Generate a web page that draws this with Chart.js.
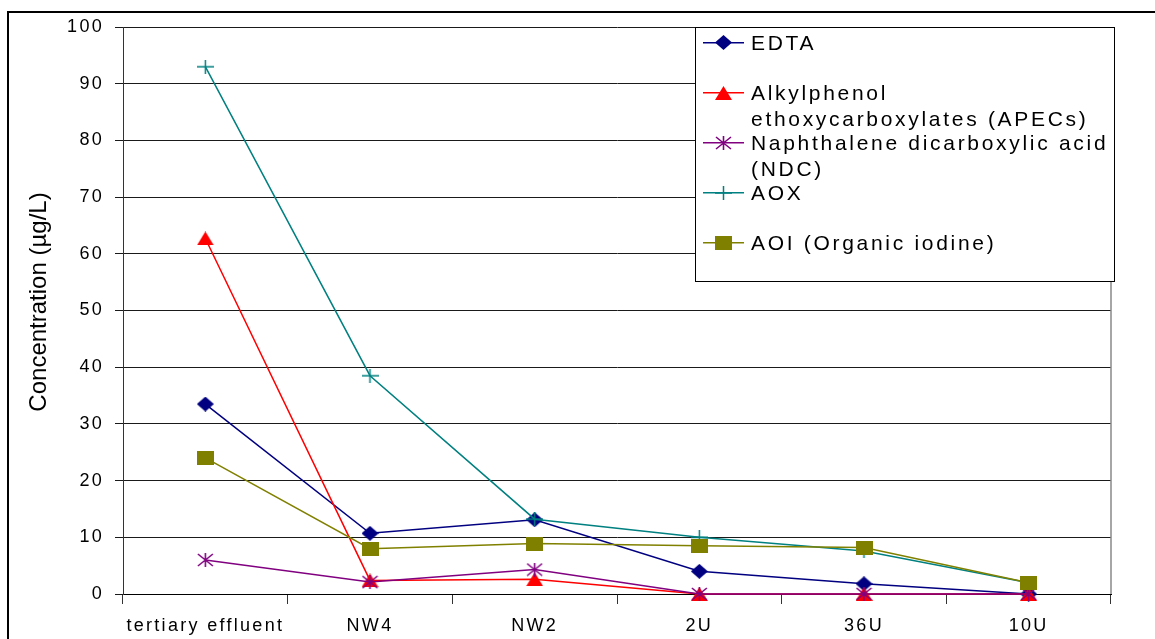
<!DOCTYPE html>
<html>
<head>
<meta charset="utf-8">
<script src="https://cdn.jsdelivr.net/npm/chart.js@4.4.0/dist/chart.umd.min.js"></script>
<style>
html,body{margin:0;padding:0;background:#fff;overflow:hidden}
canvas{display:block}
</style>
</head>
<body>
<canvas id="c" width="1155" height="639" style="width:1155px;height:639px"></canvas>
<script>
// ---- data ----
const categories = ['tertiary effluent', 'NW4', 'NW2', '2U', '36U', '10U'];
const edta = [33.5, 10.7, 13.1, 4.0, 1.8, 0];
const apecs = [62.7, 2.4, 2.6, 0, 0, 0];
const ndc = [6.0, 2.1, 4.3, 0, 0, 0];
const aox = [93.0, 38.5, 13.2, 10.0, 7.6, 2.0];
const aoi = [24.0, 8.0, 8.9, 8.5, 8.2, 2.0];
const seriesNames = [
  ['EDTA'],
  ['Alkylphenol', 'ethoxycarboxylates (APECs)'],
  ['Naphthalene dicarboxylic acid', '(NDC)'],
  ['AOX'],
  ['AOI (Organic iodine)']
];
const yTicks = [0, 10, 20, 30, 40, 50, 60, 70, 80, 90, 100];
const yTitle = 'Concentration (\u00b5g/L)';

const FONT = "'Liberation Sans', Arial, sans-serif";
Chart.defaults.font.family = FONT;

// ---- marker images ----
function mk(w, h, draw) {
  const c = document.createElement('canvas');
  c.width = w; c.height = h;
  draw(c.getContext('2d'), w, h);
  return c;
}
const mDiamond = mk(17, 15, (g, w, h) => {
  g.fillStyle = '#000080';
  g.beginPath(); g.moveTo(w / 2, 0); g.lineTo(w, h / 2); g.lineTo(w / 2, h); g.lineTo(0, h / 2); g.closePath(); g.fill();
});
const mTriangle = mk(17, 14, (g, w, h) => {
  g.fillStyle = '#ff0000';
  g.beginPath(); g.moveTo(w / 2, 0); g.lineTo(w, h); g.lineTo(0, h); g.closePath(); g.fill();
});
const mStar = mk(17, 14, (g, w, h) => {
  g.strokeStyle = '#800080'; g.lineWidth = 1.6;
  g.beginPath();
  g.moveTo(1, 1); g.lineTo(w - 1, h - 1);
  g.moveTo(w - 1, 1); g.lineTo(1, h - 1);
  g.moveTo(w / 2, 0); g.lineTo(w / 2, h);
  g.stroke();
});
const mCross = mk(17, 14, (g, w, h) => {
  g.strokeStyle = '#008080'; g.lineWidth = 1.5;
  g.beginPath();
  g.moveTo(0, h / 2); g.lineTo(w, h / 2);
  g.moveTo(w / 2, 0); g.lineTo(w / 2, h);
  g.stroke();
});
const mSquare = mk(17, 14, (g, w, h) => {
  g.fillStyle = '#808000';
  g.fillRect(0, 0, w, h);
});

function ds(label, data, color, marker, order) {
  return {
    label: label, data: data, borderColor: color, backgroundColor: color,
    borderWidth: 1.5, pointStyle: marker, pointRadius: 8, pointHoverRadius: 8,
    tension: 0, fill: false, clip: false, order: order
  };
}

const datasets = [
  ds('EDTA', edta, '#000080', mDiamond, 5),
  ds('Alkylphenol ethoxycarboxylates (APECs)', apecs, '#ff0000', mTriangle, 4),
  ds('Naphthalene dicarboxylic acid (NDC)', ndc, '#800080', mStar, 3),
  ds('AOX', aox, '#008080', mCross, 2),
  ds('AOI (Organic iodine)', aoi, '#808000', mSquare, 1)
];

const decor = {
  id: 'decor',
  beforeDraw(chart) {
    const ctx = chart.ctx;
    ctx.save();
    ctx.fillStyle = '#fff';
    ctx.fillRect(0, 0, chart.width, chart.height);
    ctx.strokeStyle = '#000';
    ctx.lineWidth = 2;
    ctx.strokeRect(8, 12, 1300, 800);
    ctx.restore();
    ctx.letterSpacing = '2.3px';
  },
  beforeDatasetsDraw(chart) {
    const ctx = chart.ctx, a = chart.chartArea;
    ctx.save();
    ctx.strokeStyle = '#888';
    ctx.lineWidth = 1.5;
    ctx.beginPath();
    ctx.moveTo(a.right, a.top);
    ctx.lineTo(a.right, a.bottom);
    ctx.stroke();
    ctx.restore();
  },
  afterDraw(chart) {
    const ctx = chart.ctx;
    // legend
    ctx.save();
    ctx.letterSpacing = '2.7px';
    ctx.fillStyle = '#fff';
    ctx.fillRect(695, 27, 419, 254);
    ctx.strokeStyle = '#000';
    ctx.lineWidth = 1;
    ctx.strokeRect(695.5, 27.5, 419, 254);
    const rows = [42.7, 92.7, 142.7, 192.7, 242.7];
    const markers = [mDiamond, mTriangle, mStar, mCross, mSquare];
    chart.data.datasets.forEach((d, i) => {
      const y = rows[i];
      ctx.strokeStyle = d.borderColor;
      ctx.lineWidth = 1.5;
      ctx.beginPath(); ctx.moveTo(703, y); ctx.lineTo(744, y); ctx.stroke();
      const m = markers[i];
      ctx.drawImage(m, Math.round(723.5 - m.width / 2), Math.round(y - m.height / 2));
      ctx.fillStyle = '#000';
      ctx.font = '21px ' + FONT;
      ctx.textAlign = 'left';
      ctx.textBaseline = 'alphabetic';
      seriesNames[i].forEach((t, k) => ctx.fillText(t, 751, y + 7.5 + k * 25.6));
    });
    ctx.restore();
    // y title
    ctx.save();
    ctx.letterSpacing = '0px';
    ctx.translate(39, 302);
    ctx.rotate(-Math.PI / 2);
    ctx.fillStyle = '#000';
    ctx.font = '24px ' + FONT;
    ctx.textAlign = 'center';
    ctx.textBaseline = 'middle';
    ctx.fillText(yTitle, 0, 0);
    ctx.restore();
  }
};

new Chart(document.getElementById('c'), {
  type: 'line',
  data: { labels: categories, datasets: datasets },
  options: {
    responsive: false,
    animation: false,
    devicePixelRatio: 1,
    events: [],
    layout: { padding: { top: 27, right: 44, left: 0, bottom: 0 } },
    plugins: { legend: { display: false }, tooltip: { enabled: false } },
    scales: {
      x: {
        offset: true,
        grid: { offset: true, drawOnChartArea: false, drawTicks: true, tickLength: 10, color: '#333', lineWidth: 1 },
        border: { color: '#000', width: 1 },
        ticks: { color: '#000', font: { size: 18 }, padding: 11, maxRotation: 0, autoSkip: false },
        afterFit(s) { s.height = 45; }
      },
      y: {
        min: 0, max: 100,
        afterBuildTicks(s) { s.ticks = yTicks.map(v => ({ value: v })); },
        grid: { color: '#1a1a1a', lineWidth: 1, tickLength: 8 },
        border: { color: '#333', width: 1 },
        ticks: { color: '#000', font: { size: 18 }, padding: 11 },
        afterFit(s) { s.width = 123; }
      }
    }
  },
  plugins: [decor]
});
</script>
</body>
</html>
